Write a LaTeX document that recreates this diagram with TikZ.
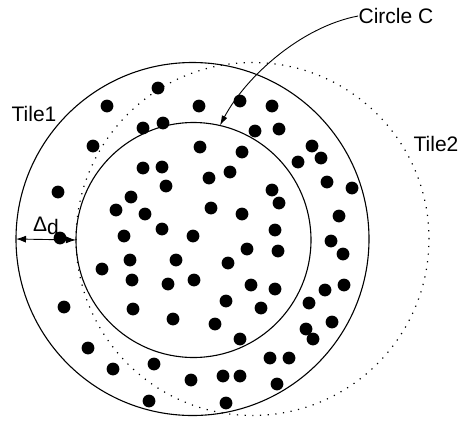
\documentclass[tikz,border=0pt]{standalone}
\usepackage{fontspec}
\setmainfont{Liberation Sans}
\usetikzlibrary{arrows.meta,positioning}

\begin{document}
\begin{tikzpicture}[x=1pt,y=-1pt,line width=1.1pt,
    ring/.style={circle,draw,inner sep=0pt,outer sep=0pt},
    lbl/.style={font=\fontsize{21}{25}\selectfont,inner sep=0pt},
    pt/.style={fill=black}]
  \useasboundingbox (0,0) rectangle (458,424);
  % tiles and circle
  \node[ring,minimum size=353pt] (tile1) at (192.5,239) {};
  \node[ring,minimum size=353pt,line width=1.2pt,
        dash pattern=on 1.2pt off 6.5pt] (tile2) at (252.5,239) {};
  \node[ring,minimum size=235pt] (circC) at (193.5,240) {};
  % points
  \foreach \x/\y in {158/88,107/106,199/106,240/101,272/106,143/128,163/123,
      255/131,279/129,93/146,200/147,242/152,312/146,321/158,298/162,
      143/168,162/167,209/178,230/172,166/186,327/182,352/188,58/192,
      131/197,272/190,279/203,116/210,145/214,211/208,242/214,339/216,
      60/238,124/236,162/229,193/236,275/230,331/241,247/249,278/251,
      343/254,130/260,176/260,228/263,102/269,132/280,168/284,194/280,
      251/285,275/289,325/290,344/285,64/307,133/309,226/301,261/308,
      309/303,173/319,215/324,332/322,306/329,313/339,240/339,88/348,
      154/364,270/358,289/358,113/369,191/380,223/376,240/376,277/384,
      149/401,226/403}
    \fill[pt] (\x,\y) circle (6.4pt);
  % labels
  \node[lbl] (t1) at (34,114) {Tile1};
  \node[lbl] (t2) at (436,144) {Tile2};
  \node[lbl] (cc) at (396,16) {Circle C};
  \draw[-{Latex[length=10pt,width=6pt]},line width=0.9pt]
    (cc.west) .. controls (300,27) and (245,78) .. (circC.77);
  \draw[{Latex[length=10pt,width=7pt]}-{Latex[length=10pt,width=7pt]},line width=0.9pt]
    (tile1.west) -- node[lbl,above=4pt] (dd) {Δ\raisebox{-3pt}{d}} (circC.west);
\end{tikzpicture}
\end{document}
